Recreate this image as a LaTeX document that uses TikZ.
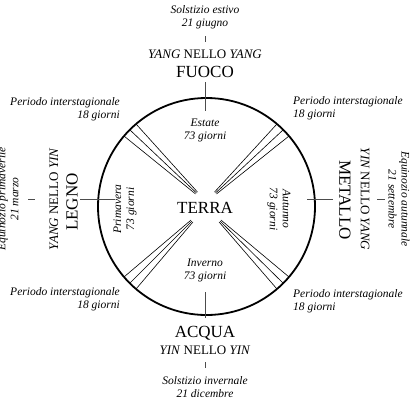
\documentclass[tikz,border=0pt]{standalone}
\usepackage{fontspec}
\setmainfont{Liberation Serif}
\usetikzlibrary{calc}

\begin{document}
\begin{tikzpicture}[x=1pt,y=-1pt,
    small/.style={font=\fontsize{11.5}{13}\selectfont\itshape,align=center,inner sep=0pt},
    yinyang/.style={font=\fontsize{13}{15}\selectfont,inner sep=0pt},
    element/.style={font=\fontsize{17}{19}\selectfont,inner sep=0pt},
    tick/.style={draw=black!70,line width=.8}]

  \useasboundingbox (0,0) rectangle (410,410);

  %%%% Draw the circle and set coordinates %%%%
  \def\rad{108.5}
  \coordinate (C) at (206.5,206.5);
  \coordinate (tipUL) at (196.5,193);
  \coordinate (tipUR) at (215.5,193);
  \coordinate (tipLL) at (192,221);
  \coordinate (tipLR) at (220,221);
  \draw[line width=1.8] (C) circle [radius=\rad pt];

  %% three lines for each interseasonal period
  \foreach \a/\tip in {45/LR,135/LL,225/UL,315/UR}{
    \foreach \d in {-4.5,0,4.5}{
      \draw[line width=.6] ($(C)+(\a+\d:\rad)$) -- ($(tip\tip)+(\a+90:\d*0.3)$);
    }
  }

  %% centre
  \node[element] (terra) at (205,208) {TERRA};

  %%%% Top: summer %%%%
  \node[small] (solE) at (205,17.5) {Solstizio estivo\\21 giugno};
  \node[yinyang] (yangF) at (205,54) {\textit{YANG} NELLO \textit{YANG}};
  \node[element] (fuoco) at (205,72) {FUOCO};
  \node[small] (estate) at (205,130) {Estate\\73 giorni};
  \draw[tick] (205.5,36) -- (205.5,42);
  \draw[tick] (205.5,82) -- (205.5,111);

  %%%% Bottom: winter %%%%
  \node[small] (inverno) at (205,270.5) {Inverno\\73 giorni};
  \node[element] (acqua) at (205,333) {ACQUA};
  \node[yinyang] (yinA) at (205,350) {\textit{YIN} NELLO \textit{YIN}};
  \node[small] (solI) at (205,387) {Solstizio invernale\\21 dicembre};
  \draw[tick] (205.5,292) -- (205.5,318);
  \draw[tick] (205.5,362) -- (205.5,368);

  %%%% Left: spring %%%%
  \node[small,rotate=90] (eqP) at (8,199) {Equinozio primaverile\\21 marzo};
  \node[yinyang,rotate=90] (yangL) at (54,199) {\textit{YANG} NELLO \textit{YIN}};
  \node[element,rotate=90] (legno) at (72,202) {LEGNO};
  \node[small,rotate=90] (primavera) at (125,209) {Primavera\\73 giorni};
  \draw[tick] (28,199.5) -- (35,199.5);
  \draw[tick] (80,199.5) -- (115,199.5);

  %%%% Right: autumn %%%%
  \node[small,rotate=-90] (eqA) at (399,199) {Equinozio autunnale\\21 settembre};
  \node[yinyang,rotate=-90] (yinR) at (365,199) {\textit{YIN} NELLO \textit{YANG}};
  \node[element,rotate=-90] (metallo) at (345,200) {METALLO};
  \node[small,rotate=-90] (autunno) at (279,209) {Autunno\\73 giorni};
  \draw[tick] (377,199.5) -- (385,199.5);
  \draw[tick] (307,199.5) -- (333,199.5);

  %%%% Interseasonal periods %%%%
  \node[small,align=right,anchor=east] (perUL) at (120,109) {Periodo interstagionale\\18 giorni};
  \node[small,align=right,anchor=east] (perLL) at (120,299) {Periodo interstagionale\\18 giorni};
  \node[small,align=left,anchor=west] (perUR) at (293,108) {Periodo interstagionale\\18 giorni};
  \node[small,align=left,anchor=west] (perLR) at (293,301) {Periodo interstagionale\\18 giorni};

\end{tikzpicture}
\end{document}
